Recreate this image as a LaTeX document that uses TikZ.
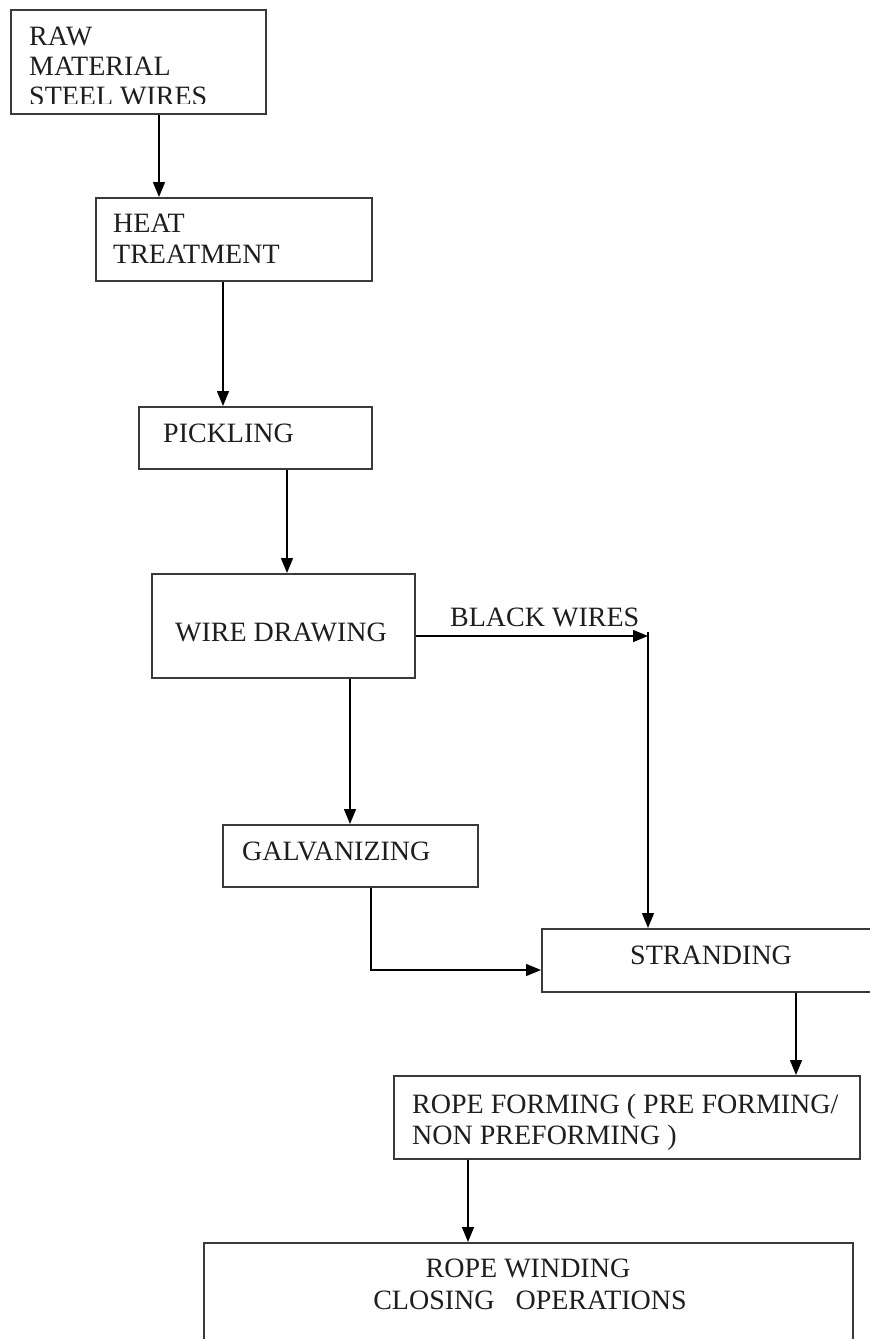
\documentclass[tikz,border=0pt]{standalone}
\usepackage{fontspec}
\setmainfont{Liberation Serif}
\usetikzlibrary{arrows.meta,calc}
\definecolor{ln}{HTML}{3A3A3A}
\definecolor{tx}{HTML}{1E1E1E}
\begin{document}
\begin{tikzpicture}[x=1pt,y=-1pt,
  box/.style={draw=ln,line width=1.6pt,rectangle,inner sep=0pt,anchor=north west,fill=none},
  txt/.style={anchor=base west,inner sep=0pt,text=tx,font=\fontsize{28}{31}\selectfont},
  ctxt/.style={anchor=base,inner sep=0pt,text=tx,font=\fontsize{28}{31}\selectfont},
  arr/.style={draw=black,line width=1.5pt,-{Triangle[length=15pt,width=12pt]}},
  ln/.style={draw=black,line width=1.5pt}]
\clip (0,0) rectangle (870,1339);
\fill[white] (0,0) rectangle (870,1339);
% boxes
\node[box,minimum width=255pt,minimum height=104pt] (raw) at (10,9) {};
\node[box,minimum width=276pt,minimum height=83pt] (heat) at (95,197) {};
\node[box,minimum width=233pt,minimum height=62pt] (pick) at (138,406) {};
\node[box,minimum width=263pt,minimum height=104pt] (wire) at (151,573) {};
\node[box,minimum width=255pt,minimum height=62pt] (galv) at (222,824) {};
\node[box,minimum width=340pt,minimum height=63pt] (strand) at (541,928) {};
\node[box,minimum width=466pt,minimum height=83pt] (rope) at (393,1075) {};
\node[box,minimum width=649pt,minimum height=150pt] (wind) at (203,1242) {};
% texts
\node[txt] (t1) at (29,45) {RAW};
\node[txt] (t2) at (29,75) {MATERIAL};
\begin{scope}
\clip (20,80) rectangle (260,103);
\node[txt] (t3) at (29,105) {STEEL WIRES};
\end{scope}
\node[txt] (t4) at (113,232) {HEAT};
\node[txt] (t5) at (113,263) {TREATMENT};
\node[txt] (t6) at (163,442) {PICKLING};
\node[txt] (t7) at (175,641) {WIRE DRAWING};
\node[txt] (t8) at (450,626) {BLACK WIRES};
\node[txt] (t9) at (242,860) {GALVANIZING};
\node[txt] (t10) at (630,964) {STRANDING};
\node[txt] (t11) at (412,1113) {ROPE FORMING ( PRE FORMING/};
\node[txt] (t12) at (412,1144) {NON PREFORMING )};
\node[ctxt] (t13) at (528,1277) {ROPE WINDING};
\node[ctxt] (t14) at (530,1309) {CLOSING\hspace{0.75em}OPERATIONS};
% connectors
\draw[arr] ([xshift=149pt]raw.south west) -- ([xshift=64pt]heat.north west);
\draw[arr] ([xshift=128pt]heat.south west) -- ([xshift=85pt]pick.north west);
\draw[arr] ([xshift=149pt]pick.south west) -- ([xshift=136pt]wire.north west);
\coordinate (bw) at (648,636);
\draw[arr] ([yshift=-63pt]wire.north east) -- (bw);
\draw[arr] ([yshift=4pt]bw) -- ([xshift=107pt]strand.north west);
\draw[arr] ([xshift=199pt]wire.south west) -- ([xshift=128pt]galv.north west);
\draw[arr] ([xshift=149pt]galv.south west) |- ([yshift=-42pt]strand.north west);
\draw[arr] ([xshift=255pt]strand.south west) -- ([xshift=403pt]rope.north west);
\draw[arr] ([xshift=75pt]rope.south west) -- ([xshift=265pt]wind.north west);
\end{tikzpicture}
\end{document}
